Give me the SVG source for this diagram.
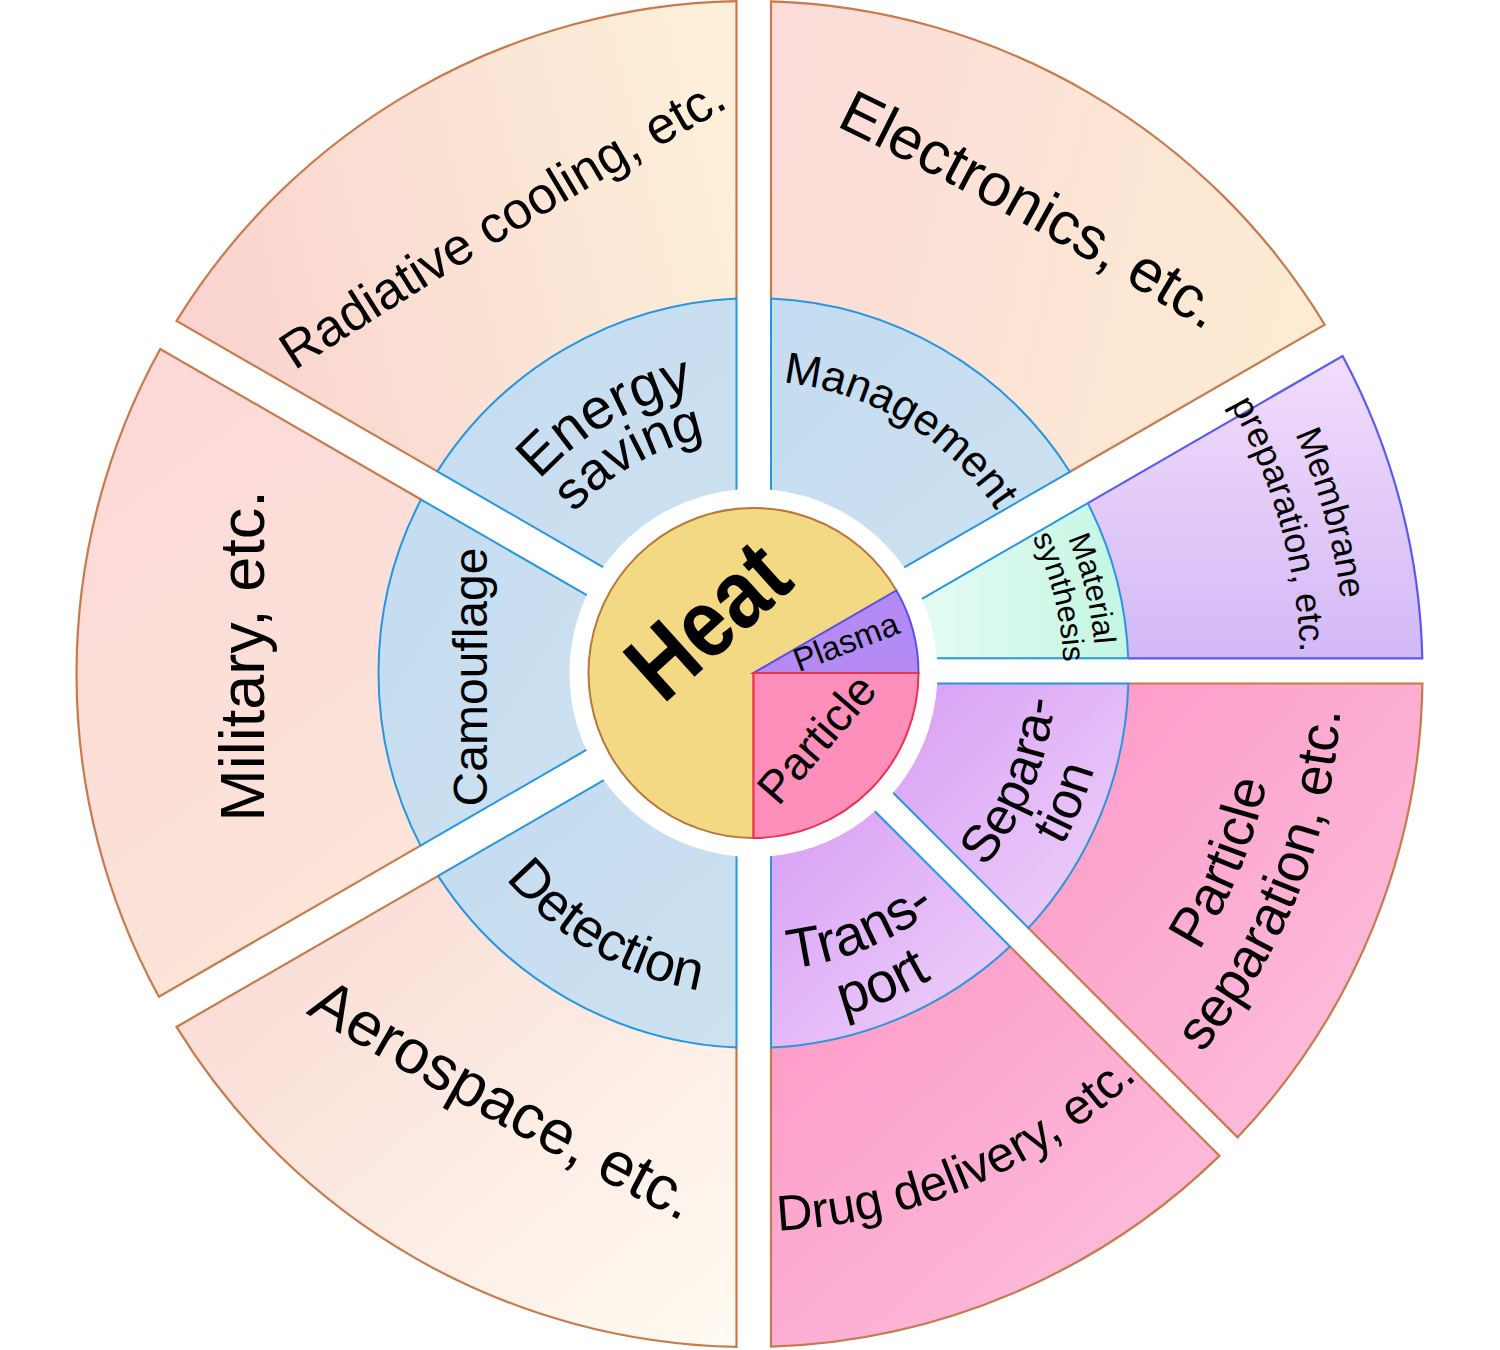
<svg xmlns="http://www.w3.org/2000/svg" xmlns:xlink="http://www.w3.org/1999/xlink" width="1500" height="1350" viewBox="0 0 1500 1350">
<style>
.t{font-family:'Liberation Sans',Arial,sans-serif;fill:#000;}
.warm{stroke:#c87a4c;stroke-width:2.2;fill:none;}
.blue{stroke:#2796e0;stroke-width:2;fill:none;}
.pinkS{stroke:#c87a4c;stroke-width:2.2;fill:none;}
.memS{stroke:#5a5af0;stroke-width:2.2;fill:none;}
</style>
<defs>
<linearGradient id="gRad" x1="0" y1="0.6" x2="1" y2="0.4"><stop offset="0" stop-color="#f9d3cf"/><stop offset="1" stop-color="#fdefd9"/></linearGradient>
<linearGradient id="gMil" x1="0.3" y1="0" x2="0.7" y2="1"><stop offset="0" stop-color="#fcd8d8"/><stop offset="1" stop-color="#fce6d8"/></linearGradient>
<linearGradient id="gAer" x1="0" y1="0" x2="1" y2="1"><stop offset="0" stop-color="#f9d8d1"/><stop offset="1" stop-color="#fffbf2"/></linearGradient>
<linearGradient id="gEle" x1="0" y1="0.4" x2="1" y2="0.6"><stop offset="0" stop-color="#fbdcd8"/><stop offset="1" stop-color="#fdecd3"/></linearGradient>
<linearGradient id="gBlue" x1="0" y1="0" x2="1" y2="1"><stop offset="0" stop-color="#c4dcf2"/><stop offset="1" stop-color="#cde1ef"/></linearGradient>
<linearGradient id="gPur" x1="0" y1="0" x2="1" y2="1"><stop offset="0" stop-color="#d89ff4"/><stop offset="1" stop-color="#eed3fa"/></linearGradient>
<linearGradient id="gPink" x1="0" y1="0" x2="1" y2="1"><stop offset="0" stop-color="#fd98c6"/><stop offset="1" stop-color="#fcc3df"/></linearGradient>
<linearGradient id="gMem" x1="0.5" y1="0" x2="0.5" y2="1"><stop offset="0" stop-color="#f2dcfb"/><stop offset="1" stop-color="#d2b9f7"/></linearGradient>
<linearGradient id="gMat" x1="0" y1="0.5" x2="1" y2="0.5"><stop offset="0" stop-color="#e4fbf3"/><stop offset="1" stop-color="#c4f6e3"/></linearGradient>
<path id="pRad" d="M 214.5 423.9 Q 505.7 228.3 813.5 60.1"/>
<path id="pEle" d="M 742.5 81.5 Q 1029.1 213 1292.5 386.5"/>
<path id="pAer" d="M 212.5 956.6 Q 488.3 1127.5 779.5 1270.4"/>
<path id="pDrug" d="M 500.2 1170.2 A 558 558 0 0 0 1287.1 836.2"/>
<path id="pPs1" d="M 915.7 1172.3 A 525 525 0 0 0 1217 426.5"/>
<path id="pPs2" d="M 935.2 1232.2 A 588 588 0 0 0 1272.7 396.9"/>
<path id="pMem1" d="M 999 134.3 A 592 592 0 0 1 1241.4 1008.3"/>
<path id="pMem2" d="M 977.7 174.1 A 547 547 0 0 1 1205.9 980.5"/>
<path id="pMat1" d="M 903.4 365.6 A 342 342 0 0 1 1030.2 874"/>
<path id="pMat2" d="M 889.4 394.4 A 310 310 0 0 1 1004.3 855.2"/>
<path id="pMan" d="M 658.4 396.9 A 292 292 0 0 1 1041.9 627.3"/>
<path id="pDet" d="M 436.4 728.9 A 322 322 0 0 0 863.6 975.6"/>
<path id="pEn1" d="M 469.9 623 A 288 288 0 0 1 852 402.4"/>
<path id="pEn2" d="M 517.1 631.3 A 240 240 0 0 1 835.6 447.5"/>
<path id="pSep1" d="M 844.3 961 A 302 302 0 0 0 1021.4 533.6"/>
<path id="pSep2" d="M 859.9 1010.6 A 354 354 0 0 0 1067.5 509.6"/>
<path id="pTr1" d="M 615.9 937.3 A 298 298 0 0 0 1037.7 762.6"/>
<path id="pTr2" d="M 590.1 987 A 354 354 0 0 0 1091.1 779.4"/>
</defs>
<rect x="0" y="0" width="1500" height="1350" fill="#ffffff"/>

<g id="outer-ring">
<g id="radiative-cooling">
<path fill="url(#gRad)" d="M 736.5 298.39 L 736.5 1.13 A 673 673 0 0 0 176.6 320.86 L 437.31 471.39 A 375 375 0 0 1 736.5 298.39 Z"/>
<path class="warm" d="M 736.5 298.39 L 736.5 1.13 A 673 673 0 0 0 176.6 320.86 L 437.31 471.39"/>
<text class="t" font-size="52" text-anchor="middle"><textPath href="#pRad" xlink:href="#pRad" startOffset="50%">Radiative cooling, etc.</textPath></text>
</g>
<g id="military">
<path fill="url(#gMil)" d="M 421.04 499.53 L 160.23 348.94 A 673 673 0 0 0 158.91 996.67 L 420.59 845.59 A 375 375 0 0 1 421.04 499.53 Z"/>
<path class="warm" d="M 421.04 499.53 L 160.23 348.94 A 673 673 0 0 0 158.91 996.67 L 420.59 845.59"/>
<text class="t" font-size="63" text-anchor="middle" transform="translate(264 656) rotate(-90)">Military, etc.</text>
</g>
<g id="aerospace">
<path fill="url(#gAer)" d="M 438.12 875.88 L 176.49 1026.94 A 673 673 0 0 0 736.5 1346.87 L 736.5 1047.61 A 375 375 0 0 1 438.12 875.88 Z"/>
<path class="warm" d="M 438.12 875.88 L 176.49 1026.94 A 673 673 0 0 0 736.5 1346.87 L 736.5 1047.61"/>
<text class="t" font-size="62" text-anchor="middle"><textPath href="#pAer" xlink:href="#pAer" startOffset="50%">Aerospace, etc.</textPath></text>
</g>
<g id="drug-delivery">
<path fill="url(#gPink)" d="M 771 1047.59 L 771 1346.66 A 673 673 0 0 0 1219.37 1155.84 L 1010.05 946.52 A 375 375 0 0 1 771 1047.59 Z"/>
<path class="pinkS" d="M 771 1047.59 L 771 1346.66 A 673 673 0 0 0 1219.37 1155.84 L 1010.05 946.52"/>
<text class="t" font-size="50" text-anchor="middle"><textPath href="#pDrug" xlink:href="#pDrug" startOffset="50%">Drug delivery, etc.</textPath></text>
</g>
<g id="particle-separation">
<path fill="url(#gPink)" d="M 1028.38 928.08 L 1237.62 1137.32 A 673 673 0 0 0 1422.43 683.5 L 1128.35 683.5 A 375 375 0 0 1 1028.38 928.08 Z"/>
<path class="pinkS" d="M 1028.38 928.08 L 1237.62 1137.32 A 673 673 0 0 0 1422.43 683.5 L 1128.35 683.5"/>
<text class="t" font-size="55" text-anchor="middle"><textPath href="#pPs1" xlink:href="#pPs1" startOffset="50%">Particle</textPath></text>
<text class="t" font-size="55" text-anchor="middle"><textPath href="#pPs2" xlink:href="#pPs2" startOffset="50%">separation, etc.</textPath></text>
</g>
<g id="membrane-preparation">
<path fill="url(#gMem)" d="M 1128.21 658.3 L 1422.32 658.3 A 673 673 0 0 0 1342.6 355.96 L 1087.8 503.08 A 375 375 0 0 1 1128.21 658.3 Z"/>
<path class="memS" d="M 1128.21 658.3 L 1422.32 658.3 A 673 673 0 0 0 1342.6 355.96 L 1087.8 503.08"/>
<text class="t" font-size="36" text-anchor="middle"><textPath href="#pMem1" xlink:href="#pMem1" startOffset="50%">Membrane</textPath></text>
<text class="t" font-size="36" text-anchor="middle"><textPath href="#pMem2" xlink:href="#pMem2" startOffset="50%">preparation, etc.</textPath></text>
</g>
<g id="electronics">
<path fill="url(#gEle)" d="M 1069.96 471.81 L 1324.75 324.7 A 673 673 0 0 0 771 1.34 L 771 298.41 A 375 375 0 0 1 1069.96 471.81 Z"/>
<path class="warm" d="M 1069.96 471.81 L 1324.75 324.7 A 673 673 0 0 0 771 1.34 L 771 298.41"/>
<text class="t" font-size="60" text-anchor="middle"><textPath href="#pEle" xlink:href="#pEle" startOffset="50%">Electronics, etc.</textPath></text>
</g>
</g>

<g id="inner-ring">
<g id="energy-saving">
<path fill="url(#gBlue)" d="M 736.5 489.79 L 736.5 298.39 A 375 375 0 0 0 437.31 471.39 L 603.05 567.08 A 184 184 0 0 1 736.5 489.79 Z"/>
<path class="blue" d="M 736.5 489.79 L 736.5 298.39 A 375 375 0 0 0 437.31 471.39 L 603.05 567.08"/>
<text class="t" font-size="57" text-anchor="middle"><textPath href="#pEn1" xlink:href="#pEn1" startOffset="50%">Energy</textPath></text>
<text class="t" font-size="53" text-anchor="middle"><textPath href="#pEn2" xlink:href="#pEn2" startOffset="50%">saving</textPath></text>
</g>
<g id="camouflage">
<path fill="url(#gBlue)" d="M 586.76 595.21 L 421.04 499.53 A 375 375 0 0 0 420.59 845.59 L 586.34 749.89 A 184 184 0 0 1 586.76 595.21 Z"/>
<path class="blue" d="M 586.76 595.21 L 421.04 499.53 A 375 375 0 0 0 420.59 845.59 L 586.34 749.89"/>
<text class="t" font-size="48" text-anchor="middle" transform="translate(487 677) rotate(-90)">Camouflage</text>
</g>
<g id="detection">
<path fill="url(#gBlue)" d="M 603.92 780.15 L 438.12 875.88 A 375 375 0 0 0 736.5 1047.61 L 736.5 856.21 A 184 184 0 0 1 603.92 780.15 Z"/>
<path class="blue" d="M 603.92 780.15 L 438.12 875.88 A 375 375 0 0 0 736.5 1047.61 L 736.5 856.21"/>
<text class="t" font-size="54" text-anchor="middle"><textPath href="#pDet" xlink:href="#pDet" startOffset="50%">Detection</textPath></text>
</g>
<g id="transport">
<path fill="url(#gPur)" d="M 771 856.17 L 771 1047.59 A 375 375 0 0 0 1010.05 946.52 L 874.85 811.32 A 184 184 0 0 1 771 856.17 Z"/>
<path class="blue" d="M 771 856.17 L 771 1047.59 A 375 375 0 0 0 1010.05 946.52 L 874.85 811.32"/>
<text class="t" font-size="56" text-anchor="middle"><textPath href="#pTr1" xlink:href="#pTr1" startOffset="50%">Trans-</textPath></text>
<text class="t" font-size="56" text-anchor="middle"><textPath href="#pTr2" xlink:href="#pTr2" startOffset="50%">port</textPath></text>
</g>
<g id="separation">
<path fill="url(#gPur)" d="M 893.13 792.83 L 1028.38 928.08 A 375 375 0 0 0 1128.35 683.5 L 937.2 683.5 A 184 184 0 0 1 893.13 792.83 Z"/>
<path class="blue" d="M 893.13 792.83 L 1028.38 928.08 A 375 375 0 0 0 1128.35 683.5 L 937.2 683.5"/>
<text class="t" font-size="52" text-anchor="middle"><textPath href="#pSep1" xlink:href="#pSep1" startOffset="50%">Separa-</textPath></text>
<text class="t" font-size="52" text-anchor="middle"><textPath href="#pSep2" xlink:href="#pSep2" startOffset="50%">tion</textPath></text>
</g>
<g id="material-synthesis">
<path fill="url(#gMat)" d="M 936.91 658.3 L 1128.21 658.3 A 375 375 0 0 0 1087.8 503.08 L 921.9 598.86 A 184 184 0 0 1 936.91 658.3 Z"/>
<path class="blue" d="M 936.91 658.3 L 1128.21 658.3 A 375 375 0 0 0 1087.8 503.08 L 921.9 598.86"/>
<text class="t" font-size="31" text-anchor="middle"><textPath href="#pMat1" xlink:href="#pMat1" startOffset="50%">Material</textPath></text>
<text class="t" font-size="31" text-anchor="middle"><textPath href="#pMat2" xlink:href="#pMat2" startOffset="50%">synthesis</textPath></text>
</g>
<g id="management">
<path fill="url(#gBlue)" d="M 904.24 567.49 L 1069.96 471.81 A 375 375 0 0 0 771 298.41 L 771 489.83 A 184 184 0 0 1 904.24 567.49 Z"/>
<path class="blue" d="M 904.24 567.49 L 1069.96 471.81 A 375 375 0 0 0 771 298.41 L 771 489.83"/>
<text class="t" font-size="44" text-anchor="middle"><textPath href="#pMan" xlink:href="#pMan" startOffset="50%">Management</textPath></text>
</g>
</g>

<g id="core">
<g id="heat">
<path fill="#f4d984" stroke="#b8783c" stroke-width="2" d="M 753.5 673 L 896.39 590.5 A 165 165 0 1 0 753.5 838 Z"/>
<text class="t" font-size="97" font-weight="bold" text-anchor="middle" textLength="180" lengthAdjust="spacingAndGlyphs" transform="translate(730 645) rotate(-42)">Heat</text>
</g>
<g id="plasma">
<path fill="#b48af4" stroke="#5b4ff0" stroke-width="2" d="M 753.5 673 L 918.5 673 A 165 165 0 0 0 896.39 590.5 Z"/>
<text class="t" font-size="33" text-anchor="middle" transform="translate(850 652.5) rotate(-21)">Plasma</text>
</g>
<g id="particle">
<path fill="#fd8fba" stroke="#f0304a" stroke-width="2" d="M 753.5 673 L 753.5 838 A 165 165 0 0 0 918.5 673 Z"/>
<text class="t" font-size="46" text-anchor="middle" transform="translate(828.5 749) rotate(-49)">Particle</text>
</g>
</g>
<g id="connectors"/>
</svg>
